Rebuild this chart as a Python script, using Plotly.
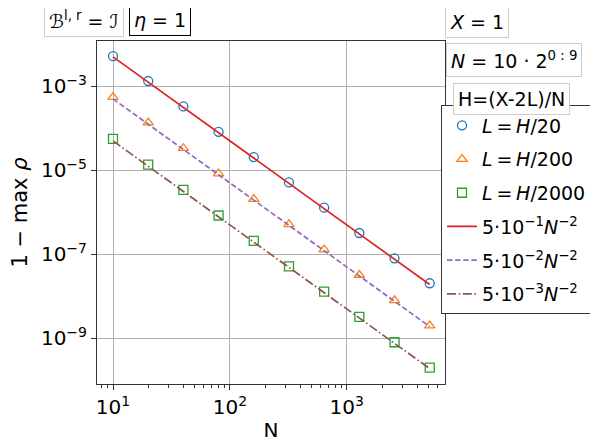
import plotly.graph_objects as go

FONT = "DejaVu Sans, sans-serif"
THIN = "\u2009"

# grid sizes N = 10 * 2^k, k = 0..9
n_vals = [10, 20, 40, 80, 160, 320, 640, 1280, 2560, 5120]

# 1 - max rho
rho_h20 = [5.2e-3, 1.33e-3, 3.3e-4, 8.2e-5, 2.06e-5, 5.15e-6, 1.29e-6, 3.22e-7, 8.05e-8, 2.05e-8]
rho_h200 = [5.5e-4, 1.36e-4, 3.35e-5, 8.3e-6, 2.07e-6, 5.17e-7, 1.29e-7, 3.22e-8, 8.05e-9, 2.01e-9]
rho_h2000 = [5.6e-5, 1.37e-5, 3.4e-6, 8.4e-7, 2.09e-7, 5.2e-8, 1.3e-8, 3.24e-9, 8.1e-10, 2.02e-10]

# reference slopes C * N^-2
ref_1 = [5.0e-3, 1.25e-3, 3.13e-4, 7.81e-5, 1.95e-5, 4.88e-6, 1.22e-6, 3.05e-7, 7.63e-8, 1.91e-8]
ref_2 = [5.0e-4, 1.25e-4, 3.13e-5, 7.81e-6, 1.95e-6, 4.88e-7, 1.22e-7, 3.05e-8, 7.63e-9, 1.91e-9]
ref_3 = [5.0e-5, 1.25e-5, 3.13e-6, 7.81e-7, 1.95e-7, 4.88e-8, 1.22e-8, 3.05e-9, 7.63e-10, 1.91e-10]

x_ticks = [10, 100, 1000]
x_ticktext = ["10<sup>1</sup>", "10<sup>2</sup>", "10<sup>3</sup>"]
x_minor = [m * d for d in (1, 10, 100, 1000) for m in range(2, 10)]
y_ticks = [1e-3, 1e-5, 1e-7, 1e-9]
y_ticktext = ["10<sup>−3</sup>", "10<sup>−5</sup>", "10<sup>−7</sup>", "10<sup>−9</sup>"]

fig = go.Figure()

eq = f"{THIN}={THIN}"
markers = [
    (rho_h20, "circle-open", "#1f77b4", f"<i>L</i>{eq}<i>H</i>/20"),
    (rho_h200, "triangle-up-open", "#ff7f0e", f"<i>L</i>{eq}<i>H</i>/200"),
    (rho_h2000, "square-open", "#2ca02c", f"<i>L</i>{eq}<i>H</i>/2000"),
]
for i, (ys, sym, col, name) in enumerate(markers):
    fig.add_scatter(
        x=n_vals, y=ys, mode="markers", name=name, legendgroup=f"g{i}",
        marker=dict(symbol=sym, size=9, color=col, line=dict(width=1.3, color=col)),
    )

refs = [
    (ref_1, "solid", "#d62728", "5·10<sup>−1</sup><i>N</i><sup>−2</sup>"),
    (ref_2, "5.5px,2.6px", "#9467bd", "5·10<sup>−2</sup><i>N</i><sup>−2</sup>"),
    (ref_3, "9px,2.6px,1.6px,2.6px", "#8c564b", "5·10<sup>−3</sup><i>N</i><sup>−2</sup>"),
]
for i, (ys, dash, col, name) in enumerate(refs):
    fig.add_scatter(
        x=n_vals, y=ys, mode="lines", name=name, legendgroup=f"r{i}",
        line=dict(color=col, width=1.7, dash=dash),
    )

# text boxes around the axes (paper coords, centred)
boxes = [
    ("<i>ℬ</i><sup>l, r</sup> = <i>ℐ</i>", -0.036, 1.060, "#cccccc"),
    ("<i>η</i> = 1", 0.182, 1.060, "#000000"),
    ("<i>X</i> = 1", 1.092, 1.055, "#cccccc"),
    ("<i>N</i> = 10 · 2<sup>0 : 9</sup>", 1.198, 0.946, "#cccccc"),
    ("H=(X-2L)/N", 1.190, 0.831, "#cccccc"),
]
for text, bx, by, bc in boxes:
    fig.add_annotation(
        x=bx, y=by, xref="paper", yref="paper", text=text, showarrow=False,
        xanchor="center", yanchor="middle",
        font=dict(family=FONT, size=19, color="black"),
        bordercolor=bc, borderwidth=1, borderpad=4, bgcolor="white",
    )

axis_common = dict(
    type="log", showline=True, mirror=True, linecolor="#333333", linewidth=1,
    gridcolor="#b0b0b0", gridwidth=1, ticks="outside", ticklen=5, tickcolor="#333333",
    tickfont=dict(family=FONT, size=20, color="black"), zeroline=False, automargin=False,
)

# the page draws the figure 8px in from the corner, so margins are shifted by 8
fig.update_layout(
    width=598, height=446,
    paper_bgcolor="white", plot_bgcolor="white",
    margin=dict(l=89, r=161, t=33, b=70, autoexpand=False),
    font=dict(family=FONT, size=19, color="black"),
    showlegend=True,
    legend=dict(
        x=0.9885, y=0.812, xanchor="left", yanchor="top",
        bordercolor="#333333", borderwidth=1, bgcolor="white",
        font=dict(family=FONT, size=19), tracegroupgap=6, traceorder="grouped",
    ),
    xaxis=dict(
        **axis_common, range=[0.863, 3.840],
        tickmode="array", tickvals=x_ticks, ticktext=x_ticktext,
        minor=dict(tickmode="array", tickvals=x_minor, ticks="outside", ticklen=2.5,
                   tickcolor="#333333", showgrid=False),
        title=dict(text="N", font=dict(family=FONT, size=20), standoff=4),
    ),
    yaxis=dict(
        **axis_common, range=[-10.085, -1.924],
        tickmode="array", tickvals=y_ticks, ticktext=y_ticktext,
        title=dict(text="1 − max <i>ρ</i>", font=dict(family=FONT, size=21), standoff=12),
    ),
)

fig.write_html("out.html")
